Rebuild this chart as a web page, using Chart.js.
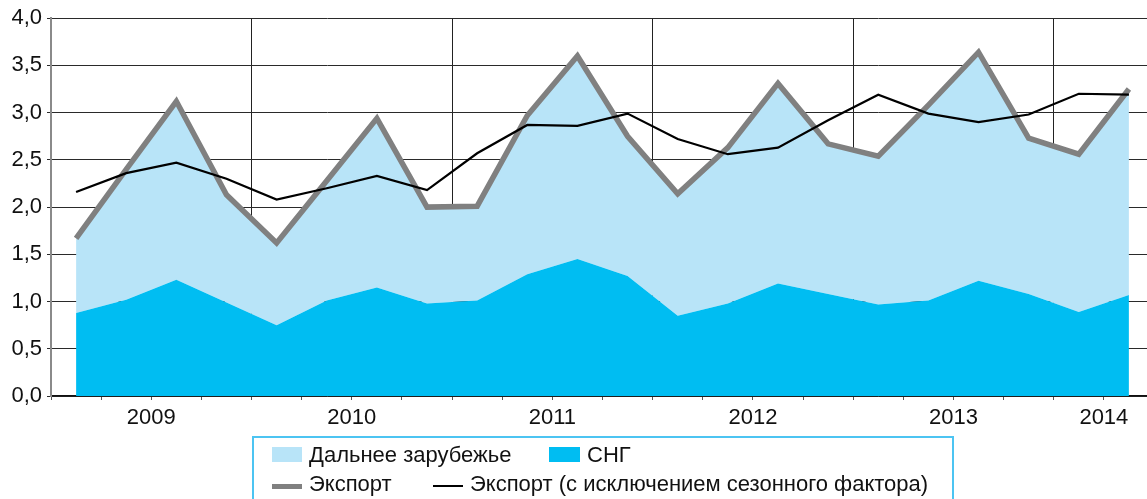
<!DOCTYPE html>
<html>
<head>
<meta charset="utf-8">
<script src="https://cdn.jsdelivr.net/npm/chart.js@4/dist/chart.umd.min.js"></script>
<style>
  html, body { margin: 0; padding: 0; background: #fff; overflow: hidden; }
  #wrap { position: relative; width: 1147px; height: 499px; overflow: hidden; background: #fff; }
  #c { position: absolute; left: 0; top: 0; }
  .lg { position: absolute; font-family: "Liberation Sans", Arial, sans-serif; font-size: 22px; line-height: 22px; color: #111; white-space: nowrap; }
  .sw { position: absolute; }
  #box { position: absolute; left: 252px; top: 436px; width: 702px; height: 100px; border: 2px solid #4cc4f2; box-sizing: border-box; }
</style>
</head>
<body>
<div id="wrap">
  <canvas id="c" width="1160" height="440"></canvas>
  <div id="box"></div>
  <div class="sw" style="left:272px;top:447px;width:30px;height:15px;background:#b8e4f8"></div>
  <div class="lg" style="left:309px;top:444px">Дальнее зарубежье</div>
  <div class="sw" style="left:549px;top:447px;width:31px;height:15px;background:#00bdf2"></div>
  <div class="lg" style="left:587px;top:444px">СНГ</div>
  <div class="sw" style="left:272px;top:484px;width:30px;height:5px;background:#808080"></div>
  <div class="lg" style="left:309px;top:473px">Экспорт</div>
  <div class="sw" style="left:433px;top:485px;width:30px;height:2px;background:#000"></div>
  <div class="lg" style="left:470px;top:473px">Экспорт (с исключением сезонного фактора)</div>
</div>
<script>
// Quarters 2009 Q1 .. 2014 Q2
const quarters = [
  '2009 I','2009 II','2009 III','2009 IV',
  '2010 I','2010 II','2010 III','2010 IV',
  '2011 I','2011 II','2011 III','2011 IV',
  '2012 I','2012 II','2012 III','2012 IV',
  '2013 I','2013 II','2013 III','2013 IV',
  '2014 I','2014 II'
];
const years = ['2009','2010','2011','2012','2013','2014'];
const yTicks = [0, 0.5, 1, 1.5, 2, 2.5, 3, 3.5, 4];

// CIS (СНГ)
const cis = [0.88, 1.02, 1.23, 0.99, 0.75, 1.01, 1.15, 0.98, 1.01, 1.29, 1.45, 1.27,
             0.85, 0.98, 1.19, 1.08, 0.97, 1.01, 1.22, 1.08, 0.89, 1.07];
// Far abroad (Дальнее зарубежье)
const farAbroad = [0.79, 1.38, 1.89, 1.14, 0.87, 1.27, 1.79, 1.02, 1.00, 1.68, 2.15, 1.48,
                   1.29, 1.65, 2.12, 1.59, 1.57, 2.07, 2.42, 1.65, 1.67, 2.18];
// Export total
const exportTotal = [1.67, 2.40, 3.12, 2.13, 1.62, 2.28, 2.94, 2.00, 2.01, 2.97, 3.60, 2.75,
                     2.14, 2.63, 3.31, 2.67, 2.54, 3.08, 3.64, 2.73, 2.56, 3.25];
// Export, seasonally adjusted
const exportSA = [2.16, 2.36, 2.47, 2.30, 2.08, 2.20, 2.33, 2.18, 2.57, 2.87, 2.86, 2.99,
                  2.72, 2.56, 2.63, 2.92, 3.19, 2.99, 2.90, 2.98, 3.20, 3.19];

const pts = arr => arr.map((v, i) => ({ x: i + 0.5, y: v }));

// year label positions: centre of the quarters of each year present in data
const yearLabelAt = {};
years.forEach(y => {
  const idx = quarters.map((q, i) => q.startsWith(y) ? i : -1).filter(i => i >= 0);
  const centre = (idx[0] + idx[idx.length - 1] + 1) / 2;
  yearLabelAt[centre] = y;
});

const FONT = { family: '"Liberation Sans", Arial, sans-serif', size: 22 };

new Chart(document.getElementById('c'), {
  type: 'line',
  data: {
    datasets: [
      { label: 'Экспорт (с исключением сезонного фактора)', data: pts(exportSA), stack: 'sa',
        borderColor: '#000', borderWidth: 2.2, pointRadius: 0, fill: false, tension: 0 },
      { label: 'Экспорт', data: pts(exportTotal), stack: 'tot',
        borderColor: '#808080', borderWidth: 5.5, borderJoinStyle: 'miter', pointRadius: 0, fill: false, tension: 0 },
      { label: 'СНГ', data: pts(cis), stack: 'geo',
        borderWidth: 0, borderColor: 'rgba(0,0,0,0)', backgroundColor: '#00bdf2', pointRadius: 0, fill: 'origin', tension: 0 },
      { label: 'Дальнее зарубежье', data: pts(farAbroad), stack: 'geo',
        borderWidth: 0, borderColor: 'rgba(0,0,0,0)', backgroundColor: '#b8e4f8', pointRadius: 0, fill: '-1', tension: 0 }
    ]
  },
  options: {
    responsive: false,
    animation: false,
    layout: { padding: { top: 18, right: 6, left: 0, bottom: 0 } },
    plugins: { legend: { display: false }, tooltip: { enabled: false }, title: { display: false } },
    scales: {
      x: {
        type: 'linear', min: 0, max: quarters.length,
        afterFit: s => { s.height = 44; },
        ticks: {
          stepSize: 1, autoSkip: false, maxRotation: 0, maxTicksLimit: 100,
          padding: 5, color: '#111', font: FONT,
          callback: v => yearLabelAt[v] || ''
        },
        grid: {
          color: c => (c.tick && c.tick.value > 0 && c.tick.value % 4 === 0) ? '#222' : 'rgba(0,0,0,0)',
          tickColor: '#555', tickLength: 4, lineWidth: 1
        },
        border: { color: '#111', width: 1.5 }
      },
      y: {
        type: 'linear', min: 0, max: 4, stacked: true,
        afterFit: s => { s.width = 51; },
        afterBuildTicks: s => { s.ticks = yTicks.map(v => ({ value: v })); },
        ticks: {
          padding: 5, color: '#111', font: FONT,
          callback: v => v.toFixed(1).replace('.', ',')
        },
        grid: { color: '#2a2a2a', tickColor: '#2a2a2a', tickLength: 4, lineWidth: 1 },
        border: { color: '#8a8a8a', width: 2 }
      }
    }
  }
});
</script>
</body>
</html>
